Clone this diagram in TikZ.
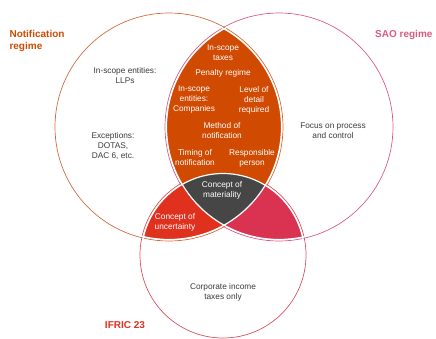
\documentclass[tikz,border=0pt]{standalone}
\usepackage{fontspec}
\setmainfont{Liberation Sans}
\definecolor{notifyorange}{HTML}{D04A02}
\definecolor{uncertred}{HTML}{E0301E}
\definecolor{saorose}{HTML}{DA3352}
\definecolor{matgray}{HTML}{464646}
\definecolor{lineorange}{HTML}{CF6A3C}
\definecolor{linerose}{HTML}{D85A80}
\definecolor{linered}{HTML}{D8505E}
\definecolor{txtgray}{HTML}{3A3A3A}
\begin{document}
\begin{tikzpicture}[x=1pt,y=-1pt,
  lbl/.style={align=center,text=txtgray,font=\fontsize{8.3}{10}\selectfont},
  inlbl/.style={lbl,text=white},
  ttl/.style={align=left,font=\fontsize{10}{12}\selectfont\bfseries}]
\pgfmathsetmacro{\r}{114}
\pgfmathsetmacro{\rb}{83}
\pgfmathsetmacro{\g}{1.5}
\useasboundingbox (0,0) rectangle (436,338);
\coordinate (L) at (169,127);
\coordinate (R) at (279,127);
\coordinate (B) at (223,255);
%
\draw[lineorange,line width=0.7pt](L) circle (\r);
\draw[linerose,line width=0.7pt](R) circle (\r);
\draw[linered,line width=0.7pt](B) circle (\rb);
%
\begin{scope}
\clip(L) circle (\r-\g);
\fill[notifyorange](R) circle (\r-\g);
\fill[uncertred](B) circle (\rb-\g);
\clip(R) circle (\r-\g);
\fill[matgray](B) circle (\rb-\g);
\end{scope}
\begin{scope}
\clip(R) circle (\r-\g);
\begin{scope}[even odd rule]
\clip(L) circle (\r-\g) (-50,-50) rectangle (500,400);
\fill[saorose](B) circle (\rb-\g);
\end{scope}
\end{scope}
%
\draw[white,line width=1.2pt](L) circle (\r-\g);
\draw[white,line width=1.2pt](R) circle (\r-\g);
\draw[white,line width=1.2pt](B) circle (\rb-\g);
%
\node[ttl,text=notifyorange,anchor=north west] (notif) at (6,27) {Notification\\regime};
\node[ttl,text=linerose,anchor=north east] (sao) at (436,27) {SAO regime};
\node[ttl,text=uncertred] (ifric) at (125,325) {IFRIC 23};
%
\node[lbl] (llp) at (125,76) {In-scope entities:\\LLPs};
\node[lbl] (exc) at (113,146) {Exceptions:\\DOTAS,\\DAC 6, etc.};
\node[lbl] (focus) at (333,131) {Focus on process\\and control};
\node[lbl] (cit) at (223,292) {Corporate income\\taxes only};
%
\node[inlbl] (taxes) at (223,53) {In-scope\\taxes};
\node[inlbl] (penalty) at (223,73) {Penalty regime};
\node[inlbl] (comp) at (194,100) {In-scope\\entities:\\Companies};
\node[inlbl] (detail) at (254,100) {Level of\\detail\\required};
\node[inlbl] (method) at (222,131) {Method of\\notification};
\node[inlbl] (timing) at (195,158) {Timing of\\notification};
\node[inlbl] (resp) at (252,158) {Responsible\\person};
\node[inlbl] (mat) at (222,190) {Concept of\\materiality};
\node[inlbl] (uncert) at (175,222) {Concept of\\uncertainty};
\end{tikzpicture}
\end{document}
